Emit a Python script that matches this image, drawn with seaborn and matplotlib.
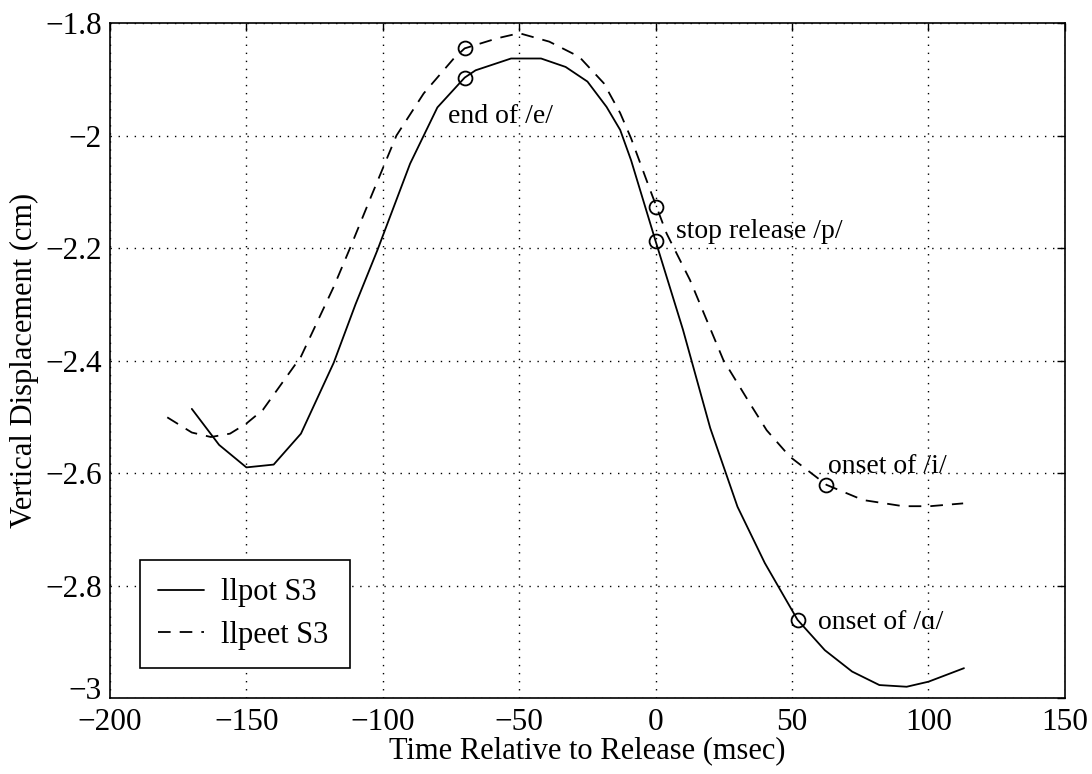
import numpy as np
import pandas as pd
import matplotlib
matplotlib.use("Agg")
import matplotlib.pyplot as plt
import matplotlib.transforms as mtransforms
import seaborn as sns

# ---- data ----
pot_x = [-170, -160, -150, -140, -130, -118, -110, -102, -90, -80, -70, -66, -53, -42,
         -33, -25, -18, -13, -9, 0, 10, 20, 30, 40, 52, 62, 72, 82, 92, 100, 113]
pot_y = [-2.486, -2.55, -2.59, -2.585, -2.53, -2.404, -2.30, -2.204, -2.05, -1.95, -1.897,
         -1.884, -1.863, -1.863, -1.878, -1.904, -1.949, -1.99, -2.044, -2.188, -2.345,
         -2.52, -2.66, -2.76, -2.861, -2.915, -2.953, -2.977, -2.98, -2.971, -2.947]

peet_x = [-179, -170, -163, -156, -150, -144, -130, -118, -112, -104, -95, -85, -74, -70,
          -58, -50, -39, -28, -19, -13, -9, -2, 4, 12.6, 24.8, 34.5, 40.7, 49.2, 62.6,
          76, 90.7, 100.5, 112.7]
peet_y = [-2.501, -2.528, -2.536, -2.53, -2.512, -2.488, -2.393, -2.269, -2.20, -2.105,
          -2.0, -1.925, -1.863, -1.845, -1.827, -1.818, -1.833, -1.86, -1.907, -1.96,
          -2.005, -2.097, -2.174, -2.257, -2.399, -2.476, -2.524, -2.571, -2.621, -2.648,
          -2.659, -2.659, -2.654]

event_pot_x = [-70, 0, 52]
event_pot_y = [-1.897, -2.188, -2.861]
event_peet_x = [-70, 0, 62.6]
event_peet_y = [-1.845, -2.127, -2.621]

annot_text = ["end of /e/", "stop release /p/", "onset of /i/", "onset of /\u0251/"]
annot_x = [-76, 7.4, 63.2, 59.6]
annot_y = [-1.978, -2.183, -2.600, -2.878]

series_names = ["llpot S3", "llpeet S3"]
xticks = [-200, -150, -100, -50, 0, 50, 100, 150]
xtick_labels = ["\u2212200", "\u2212150", "\u2212100", "\u221250", "0", "50", "100", "150"]
yticks = [-3.0, -2.8, -2.6, -2.4, -2.2, -2.0, -1.8]
ytick_labels = ["\u22123", "\u22122.8", "\u22122.6", "\u22122.4", "\u22122.2", "\u22122", "\u22121.8"]
xlabel = "Time Relative to Release (msec)"
ylabel = "Vertical Displacement (cm)"

# ---- style ----
sns.set_style("white")
plt.rcParams['font.family'] = ['Liberation Serif', 'DejaVu Serif']
plt.rcParams['axes.unicode_minus'] = True
plt.rcParams['text.color'] = 'black'
plt.rcParams['axes.labelcolor'] = 'black'
plt.rcParams['xtick.color'] = 'black'
plt.rcParams['ytick.color'] = 'black'

fig = plt.figure(figsize=(10.92, 7.74), dpi=100)
ax = fig.add_axes([0.1007, 0.0982, 0.8745, 0.872])

df_pot = pd.DataFrame({"x": pot_x, "y": pot_y})
df_peet = pd.DataFrame({"x": peet_x, "y": peet_y})

sns.lineplot(data=df_pot, x="x", y="y", ax=ax, color="black", linewidth=1.3,
             sort=False, estimator=None)
sns.lineplot(data=df_peet, x="x", y="y", ax=ax, color="black", linewidth=1.3,
             sort=False, estimator=None, dashes=False)
l_pot, l_peet = ax.lines[0], ax.lines[1]
l_peet.set_linestyle((0, (7, 5)))

ax.plot(event_pot_x, event_pot_y, linestyle="none", marker="o", markersize=10,
        markerfacecolor="none", markeredgecolor="black", markeredgewidth=1.3)
ax.plot(event_peet_x, event_peet_y, linestyle="none", marker="o", markersize=10,
        markerfacecolor="none", markeredgecolor="black", markeredgewidth=1.3)

for t, x, y in zip(annot_text, annot_x, annot_y):
    ax.text(x, y, t, fontsize=20, ha="left", va="baseline", color="black")

ax.set_xlim(-200, 150)
ax.set_ylim(-3.0, -1.8)
ax.set_xticks(xticks)
ax.set_xticklabels(xtick_labels)
ax.set_yticks(yticks)
ax.set_yticklabels(ytick_labels)
ax.tick_params(direction="in", length=6, width=1, top=True, right=True,
               labelsize=22.5, colors="black", pad=6)
ax.tick_params(axis="x", pad=7)
ax.grid(True, linestyle=(0, (1, 4.8)), color="black", linewidth=1.0)
for s in ax.spines.values():
    s.set_visible(True)
    s.set_color("black")
    s.set_linewidth(1.2)

# lift the bottom y tick label a little, as in the reference
lbl = ax.get_yticklabels()[0]
lbl.set_transform(lbl.get_transform() +
                  mtransforms.ScaledTranslation(0, 7 / 72, fig.dpi_scale_trans))

ax.set_xlabel(xlabel, fontsize=22, labelpad=0, color="black")
ax.set_ylabel(ylabel, fontsize=22, labelpad=4, color="black")

leg = ax.legend(handles=[l_pot, l_peet], labels=series_names, loc="lower left",
                bbox_to_anchor=(0.031, 0.044, 0.22, 0.168), mode="expand",
                fontsize=22, frameon=True, fancybox=False, framealpha=1,
                edgecolor="black", handlelength=1.5, handletextpad=0.55,
                borderpad=0.6, labelspacing=0.45, borderaxespad=0)
leg.get_frame().set_linewidth(1.2)
for t in leg.get_texts():
    t.set_color("black")

fig.savefig("out.png", dpi=100)
